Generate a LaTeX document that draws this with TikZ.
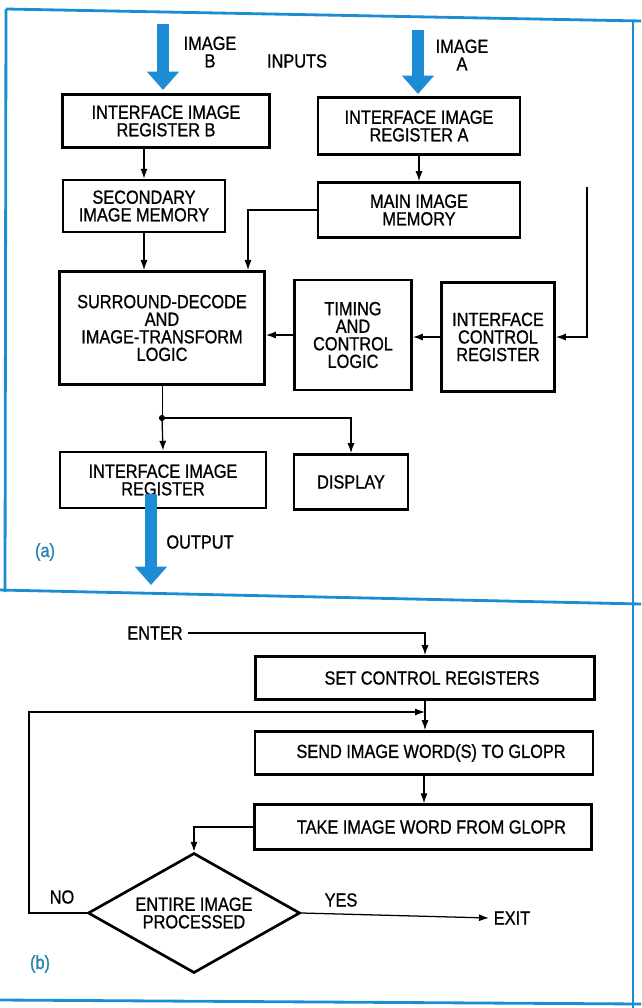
\documentclass[tikz,border=0pt]{standalone}
\usepackage{fontspec}
\setmainfont{Liberation Sans}[FakeStretch=0.86,FakeBold=0.9]
\usetikzlibrary{arrows.meta,shapes.geometric}
\definecolor{figblue}{RGB}{28,140,212}
\definecolor{tagblue}{RGB}{40,128,180}
\newcommand\figfont{\fontsize{13.5}{12.5}\selectfont}

\begin{document}
\begin{tikzpicture}[x=0.025cm,y=-0.025cm,
  font=\figfont,
  every node/.append style={align=center},
  block/.style={rectangle,draw,line width=1.9pt,inner sep=0pt},
  decision/.style={diamond,draw,line width=1.9pt,inner sep=0pt,aspect=1.77,minimum width=5.3cm,minimum height=3cm},
  flow/.style={-{Latex[length=7pt,width=5pt]},line width=0.9pt},
  bigarrow/.style={-{Triangle[length=13pt,width=22pt]},line width=9pt,figblue},
  frame/.style={figblue,line width=2pt},
  tag/.style={tagblue}]
\useasboundingbox (0,0) rectangle (641,1008);

% outer frame, split in two panels
\draw[frame] (6,9) -- (641,21);
\draw[frame] (6,9) -- (5,592);
\draw[frame] (0,590) -- (641,604);
\draw[frame] (633,20) -- (633,1008);
\draw[frame] (0,1000) -- (641,1004);

% (a) block diagram
\node[block,minimum width=5.18cm,minimum height=1.33cm] (regB) at (166,121) {INTERFACE IMAGE\\REGISTER B};
\node[block,minimum width=5.05cm,minimum height=1.43cm] (regA) at (419,126) {INTERFACE IMAGE\\REGISTER A};
\node[block,minimum width=4.05cm,minimum height=1.3cm] (secmem) at (144,206) {SECONDARY\\IMAGE MEMORY};
\node[block,minimum width=5.05cm,minimum height=1.38cm] (mainmem) at (419,210) {MAIN IMAGE\\MEMORY};
\node[block,minimum width=5.13cm,minimum height=2.83cm] (decode) at (162,328) {SURROUND-DECODE\\AND\\IMAGE-TRANSFORM\\LOGIC};
\node[block,minimum width=2.93cm,minimum height=2.75cm] (timing) at (353,335) {TIMING\\AND\\CONTROL\\LOGIC};
\node[block,minimum width=2.83cm,minimum height=2.73cm] (ctrlreg) at (498,337) {INTERFACE\\CONTROL\\REGISTER};
\node[block,minimum width=5.15cm,minimum height=1.4cm] (outreg) at (163,480) {INTERFACE IMAGE\\REGISTER};
\node[block,minimum width=2.85cm,minimum height=1.38cm] (display) at (351,482) {DISPLAY};

\node (imgB) at (210,52) {IMAGE\\B};
\node (inputs) at (297,61) {INPUTS};
\node (imgA) at (462,55) {IMAGE\\A};
\node (output) at (200,542) {OUTPUT};
\node[tag] (taga) at (45,552) {(a)};

\coordinate (inB) at (163,24);
\coordinate (inA) at (418,30);
\coordinate (outC) at (151,494);
\coordinate (mm) at (248,0);
\coordinate (ctrlin) at (587,187);
\coordinate (split) at (162,418);

\draw[bigarrow] (inB) -- (163,90);
\draw[bigarrow] (inA) -- (418,94);
\draw[bigarrow] (outC) -- (151,585);

\draw[flow] (secmem.north |- regB.south) -- (secmem.north);
\draw[flow] (regA) -- (mainmem);
\draw[flow] (secmem.south) -- (secmem.south |- decode.north);
\draw[flow] (mainmem.west) -| (mm |- decode.north);
\draw[flow] (ctrlin) |- (ctrlreg.east);
\draw[flow] (ctrlreg.west) -- (ctrlreg.west -| timing.east);
\draw[flow] (timing.west) -- (timing.west -| decode.east);
\draw (decode.south) -- (split);
\fill (split) circle (2.2pt);
\draw[flow] (split) -- (outreg.north);
\draw[flow] (split) -| (display.north);

% (b) flow chart
\node (enter) at (155,633) {ENTER};
\node[block,minimum width=8.48cm,minimum height=1.08cm] (setreg) at (425,678) {\hspace*{10pt}SET CONTROL REGISTERS};
\node[block,minimum width=8.45cm,minimum height=1.08cm] (sendword) at (424,753) {\hspace*{10pt}SEND IMAGE WORD(S) TO GLOPR};
\node[block,minimum width=8.43cm,minimum height=1.12cm] (takeword) at (423,827) {\hspace*{12pt}TAKE IMAGE WORD FROM GLOPR};
\node[decision] (decide) at (194,913) {ENTIRE IMAGE\\PROCESSED};
\node (exit) at (512,918) {EXIT};
\node (yes) at (341,900) {YES};
\node (no) at (62,897) {NO};
\node[tag] (tagb) at (40,964) {(b)};

\coordinate (loop) at (29,712);

\draw[flow] (enter.east) -| (setreg.north);
\draw[flow] (setreg.south) -- (setreg.south |- sendword.north);
\draw[flow] (decide.west) -| (loop) -- (setreg.south |- loop);
\draw[flow] (sendword.south) -- (sendword.south |- takeword.north);
\draw[flow] (takeword.west) -| (decide.north);
\draw[flow] (decide.east) -- (exit.west);
\end{tikzpicture}
\end{document}
